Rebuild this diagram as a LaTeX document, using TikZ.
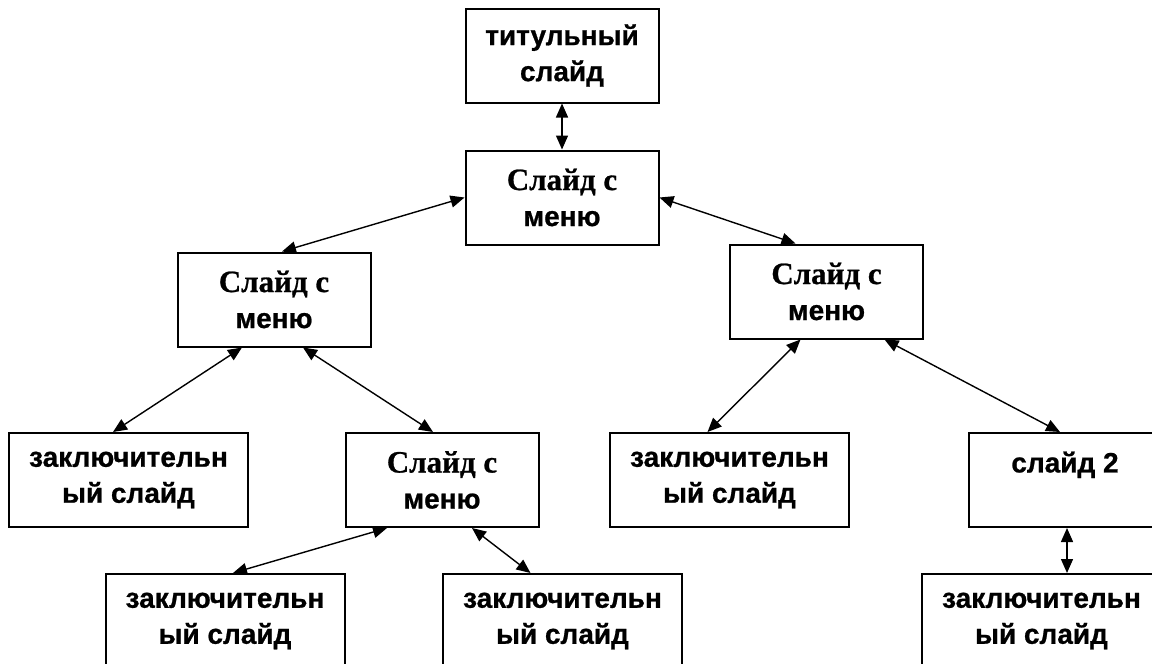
\documentclass[tikz,border=0pt]{standalone}
\usepackage{fontspec}
\setmainfont{Liberation Sans}[BoldFeatures={FakeBold=0.8}]
\newfontfamily\srffont{Liberation Serif}[BoldFeatures={FakeBold=0.8}]
\usetikzlibrary{arrows.meta}

\begin{document}
\begin{tikzpicture}[x=0.5pt,y=-0.5pt,
  font=\bfseries\fontsize{14}{18}\selectfont,
  sb/.style={rectangle,draw=black,line width=1pt,fill=white,align=center,
    minimum width=96.5pt,minimum height=47pt,inner sep=0pt},
  eb/.style={sb,minimum width=119.5pt},
  lnk/.style={line width=0.7pt,{Triangle[length=7pt,width=6pt]}-{Triangle[length=7pt,width=6pt]}}]
  \useasboundingbox (0,0) rectangle (1152,664);
  % slides
  \node[sb] (tit) at (562,55.5) {титульный\\слайд};
  \node[sb] (m0) at (562,197.5) {{\srffont\fontsize{15.5}{18}\selectfont Слайд с}\\меню};
  \node[sb] (mL) at (274,299.5) {{\srffont\fontsize{15.5}{18}\selectfont Слайд с}\\меню};
  \node[sb] (mR) at (826.5,291.5) {{\srffont\fontsize{15.5}{18}\selectfont Слайд с}\\меню};
  \node[sb] (mM) at (442,480) {{\srffont\fontsize{15.5}{18}\selectfont Слайд с}\\меню};
  \node[sb] (s2) at (1065,480) {слайд 2\\\mbox{}};
  \foreach \n/\x/\y in {eA/128.5/480,eB/729.5/480,eC/225/621,eD/562.5/621,eE/1041.5/621}
    \node[eb] (\n) at (\x,\y) {заключительн\\ый слайд};
  % links
  \draw[lnk] (tit) -- (m0);
  \draw[lnk] (m0.west) -- ([xshift=4pt]mL.north);
  \draw[lnk] (m0.east) -- ([xshift=-15.5pt]mR.north);
  \draw[lnk] ([xshift=-16pt]mL.south) -- ([xshift=-7.75pt]eA.north);
  \draw[lnk] ([xshift=14.5pt]mL.south) -- ([xshift=-4.5pt]mM.north);
  \draw[lnk] ([xshift=-27.5pt]mM.south) -- ([xshift=4pt]eC.north);
  \draw[lnk] ([xshift=15pt]mM.south) -- ([xshift=-16pt]eD.north);
  \draw[lnk] ([xshift=-13pt]mR.south) -- ([xshift=-11pt]eB.north);
  \draw[lnk] ([xshift=29pt]mR.south) -- ([xshift=-2.5pt]s2.north);
  \draw[lnk] ([xshift=1pt]s2.south) -- ([xshift=1pt]s2.south |- eE.north);
\end{tikzpicture}
\end{document}
